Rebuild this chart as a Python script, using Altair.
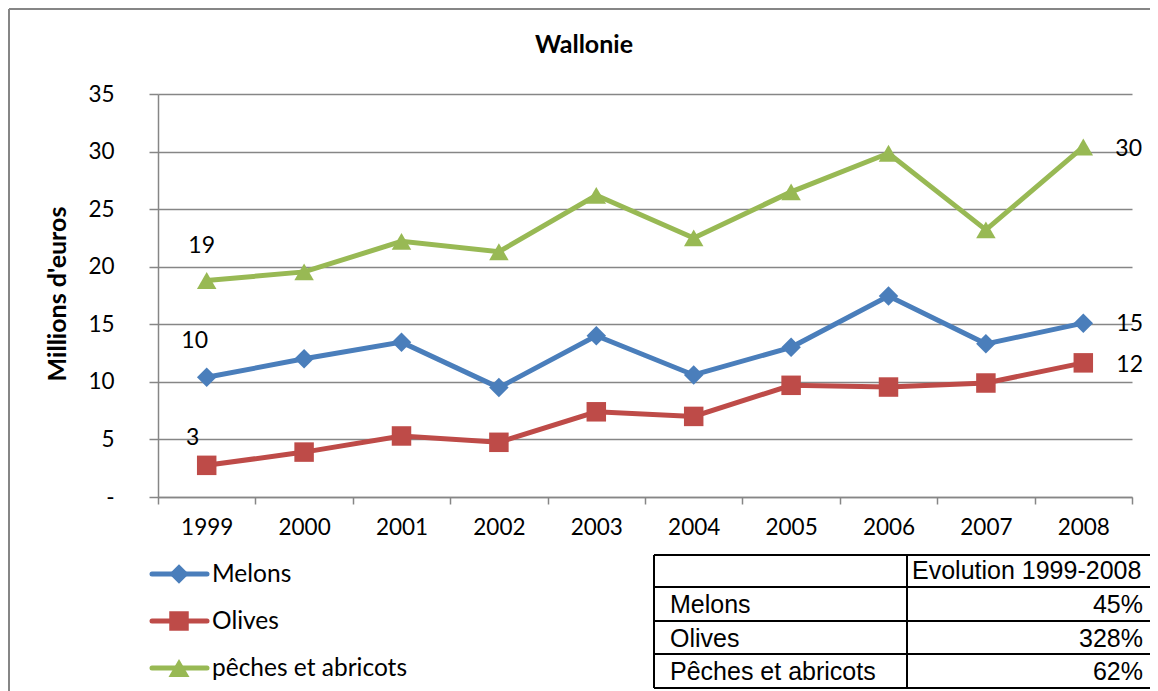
import altair as alt
import pandas as pd

years = ["1999", "2000", "2001", "2002", "2003", "2004", "2005", "2006", "2007", "2008"]
series = ["Melons", "Olives", "pêches et abricots"]
melons = [10.4, 12.0, 13.45, 9.5, 14.0, 10.6, 13.0, 17.45, 13.3, 15.1]
olives = [2.75, 3.9, 5.3, 4.75, 7.4, 7.0, 9.7, 9.55, 9.9, 11.65]
peches = [18.8, 19.55, 22.2, 21.3, 26.2, 22.5, 26.5, 29.85, 23.2, 30.4]
colors = ["#4A7EBB", "#BE4B48", "#98B954"]
shapes = ["diamond", "square", "triangle-up"]
title_text = "Wallonie"
y_title = "Millions d'euros"
table_header = "Evolution 1999-2008"
table_rows = ["Melons", "Olives", "Pêches et abricots"]
table_values = ["45%", "328%", "62%"]

rows = []
for s, vals in zip(series, [melons, olives, peches]):
    for y, v in zip(years, vals):
        rows.append({"year": y, "series": s, "value": v})
df = pd.DataFrame(rows)

FONT = "Lato"
GRID = "#868686"
one = pd.DataFrame({"a": [0]})

x_enc = alt.X("year:O", sort=years,
              scale=alt.Scale(type="band", paddingInner=0, paddingOuter=0),
              axis=alt.Axis(title=None, tickBand="extent", grid=False, labelAngle=0,
                            domainColor=GRID, domainWidth=1.5, tickColor=GRID, tickWidth=1.5,
                            tickSize=7, labelFont=FONT, labelFontSize=22.5, labelColor="black",
                            labelPadding=12))
y_enc = alt.Y("value:Q", scale=alt.Scale(domain=[0, 35], nice=False, zero=True),
              axis=alt.Axis(title=None, values=list(range(0, 36, 5)),
                            labelExpr="datum.value == 0 ? '-\u2007' : datum.label",
                            gridColor=GRID, gridWidth=1.5, domainColor=GRID, domainWidth=1.5,
                            tickColor=GRID, tickWidth=1.5, tickSize=9, labelPadding=35,
                            labelFont=FONT, labelFontSize=22.5, labelColor="black"))
color_enc = alt.Color("series:N", scale=alt.Scale(domain=series, range=colors), legend=None)

base = alt.Chart(df)
lines = base.mark_line(strokeWidth=5).encode(x=x_enc, y=y_enc, color=color_enc, detail="series:N")
points = base.mark_point(filled=True, opacity=1).encode(
    x=x_enc, y=y_enc, color=color_enc,
    shape=alt.Shape("series:N", scale=alt.Scale(domain=series, range=shapes), legend=None),
    size=alt.Size("series:N", scale=alt.Scale(domain=series, range=[380, 380, 440]), legend=None),
)

layers = [lines, points]

first_offsets = [(-12, -36), (-14, -27), (-5, -35)]
last_offsets = [(33, 1), (33, 2), (32, 2)]
for i, s in enumerate(series):
    d_first = df[(df.series == s) & (df.year == years[0])]
    d_last = df[(df.series == s) & (df.year == years[-1])]
    layers.append(alt.Chart(d_first).mark_text(font=FONT, fontSize=23, color="black",
                                               dx=first_offsets[i][0], dy=first_offsets[i][1]).encode(
        x=x_enc, y=y_enc, text=alt.Text("value:Q", format=".0f")))
    layers.append(alt.Chart(d_last).mark_text(font=FONT, fontSize=23, color="black", align="left",
                                              dx=last_offsets[i][0], dy=last_offsets[i][1]).encode(
        x=x_enc, y=y_enc, text=alt.Text("value:Q", format=".0f")))

# frame
frame = alt.Chart(one)
layers.append(frame.mark_rule(color=GRID, strokeWidth=2).encode(
    x=alt.value(-149), y=alt.value(-85), y2=alt.value(720)))
layers.append(frame.mark_rule(color=GRID, strokeWidth=2).encode(
    x=alt.value(-149), x2=alt.value(1010), y=alt.value(-85)))

# title and y title
layers.append(frame.mark_text(font=FONT, fontSize=25, fontWeight="bold", color="black").encode(
    x=alt.value(426), y=alt.value(-49), text=alt.value(title_text)))
layers.append(frame.mark_text(font=FONT, fontSize=25, fontWeight="bold", color="black", angle=270).encode(
    x=alt.value(-100), y=alt.value(200), text=alt.value(y_title)))

# legend
for i, s in enumerate(series):
    yy = 480 + 47 * i
    layers.append(frame.mark_rule(color=colors[i], strokeWidth=5, strokeCap="round").encode(
        x=alt.value(-6), x2=alt.value(49), y=alt.value(yy)))
    layers.append(frame.mark_point(filled=True, opacity=1, color=colors[i], shape=shapes[i],
                                   size=[380, 380, 440][i]).encode(x=alt.value(21), y=alt.value(yy)))
    layers.append(frame.mark_text(font=FONT, fontSize=24.5, color="black", align="left", baseline="middle").encode(
        x=alt.value(54), y=alt.value(yy + 1), text=alt.value(s)))

# table
TF = "Liberation Sans"
h_lines = [461, 493, 527, 560, 594]
v_lines = [496, 749, 993]
for hy in h_lines:
    layers.append(frame.mark_rule(color="black", strokeWidth=2).encode(
        x=alt.value(v_lines[0]), x2=alt.value(v_lines[-1]), y=alt.value(hy)))
for vx in v_lines:
    layers.append(frame.mark_rule(color="black", strokeWidth=2).encode(
        x=alt.value(vx), y=alt.value(h_lines[0]), y2=alt.value(h_lines[-1])))
layers.append(frame.mark_text(font=TF, fontSize=25, color="black", align="left", baseline="middle").encode(
    x=alt.value(754), y=alt.value(477), text=alt.value(table_header)))
for i, (name, val) in enumerate(zip(table_rows, table_values)):
    cy = (h_lines[i + 1] + h_lines[i + 2]) / 2 + 1
    layers.append(frame.mark_text(font=TF, fontSize=25, color="black", align="left", baseline="middle").encode(
        x=alt.value(512), y=alt.value(cy), text=alt.value(name)))
    layers.append(frame.mark_text(font=TF, fontSize=25, color="black", align="right", baseline="middle").encode(
        x=alt.value(985), y=alt.value(cy), text=alt.value(val)))

chart = alt.layer(*layers).properties(
    width=974, height=403,
    autosize=alt.AutoSizeParams(type="none"),
    padding={"left": 150, "top": 86, "right": 18, "bottom": 200},
).configure_view(stroke=None)

chart.save("out.html", embed_options={"renderer": "svg", "actions": False})
